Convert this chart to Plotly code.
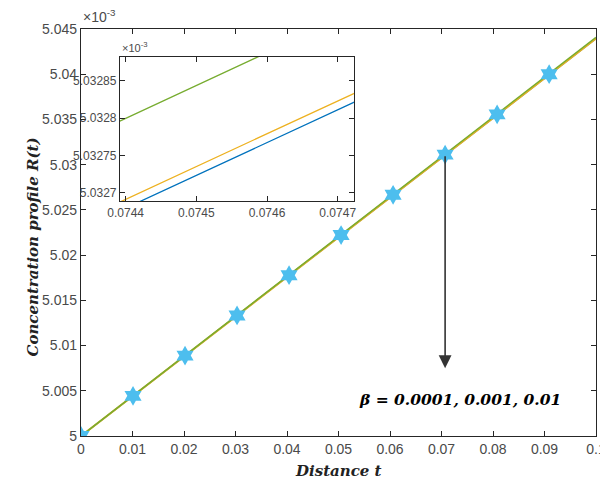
import plotly.graph_objects as go

# ---- data (values shown in units of 1e-3) ----
t_line = [0.0, 0.01, 0.02, 0.03, 0.04, 0.05, 0.06, 0.07, 0.08, 0.09, 0.1]
R_beta_0001 = [5.0, 5.004392, 5.008785, 5.013177, 5.017570, 5.021962, 5.026354, 5.030747, 5.035139, 5.039532, 5.043924]
R_beta_001 = [5.0, 5.004394, 5.008788, 5.013182, 5.017576, 5.021970, 5.026364, 5.030758, 5.035152, 5.039546, 5.043940]
R_beta_01 = [5.0, 5.004409, 5.008817, 5.013226, 5.017634, 5.022043, 5.026452, 5.030860, 5.035269, 5.039677, 5.044086]

t_mark = [0.0, 0.0101, 0.0202, 0.0303, 0.0404, 0.0505, 0.0606, 0.0707, 0.0808, 0.0909]
R_mark = [5.0, 5.00444, 5.00889, 5.01333, 5.01778, 5.02222, 5.02667, 5.03111, 5.03556, 5.04]

x_ticks = [0, 0.01, 0.02, 0.03, 0.04, 0.05, 0.06, 0.07, 0.08, 0.09, 0.1]
x_ticklabels = ["0", "0.01", "0.02", "0.03", "0.04", "0.05", "0.06", "0.07", "0.08", "0.09", "0.1"]
y_ticks = [5.0, 5.005, 5.01, 5.015, 5.02, 5.025, 5.03, 5.035, 5.04, 5.045]
y_ticklabels = ["5", "5.005", "5.01", "5.015", "5.02", "5.025", "5.03", "5.035", "5.04", "5.045"]
inset_x_ticks = [0.0744, 0.0745, 0.0746, 0.0747]
inset_y_ticks = [5.0327, 5.03275, 5.0328, 5.03285]

arrow_from = (0.0707, 5.0311)
arrow_to = (0.0707, 5.0075)
beta_label = "β = 0.0001, 0.001, 0.01"

BLUE = "#0072BD"
YELLOW = "#EDB120"
GREEN = "#77AC30"
CYAN = "#4DBEEE"
AX = "#262626"
TICKF = dict(family="Liberation Sans, Arial, sans-serif", size=14, color="#4a4a4a")
SERIF_BI = "DejaVu Serif, Liberation Serif, serif"

fig = go.Figure()

series = [(R_beta_0001, BLUE, 1.3), (R_beta_001, YELLOW, 2.0), (R_beta_01, GREEN, 1.5)]
for vals, col, w in series:
    fig.add_trace(go.Scatter(x=t_line, y=vals, mode="lines", line=dict(color=col, width=w),
                             xaxis="x", yaxis="y", showlegend=False, hoverinfo="skip"))
fig.add_trace(go.Scatter(x=t_mark, y=R_mark, mode="markers",
                         marker=dict(symbol="hexagram", size=15, color=CYAN, line=dict(width=0)),
                         xaxis="x", yaxis="y", showlegend=False))
for vals, col, w in series:
    fig.add_trace(go.Scatter(x=t_line, y=vals, mode="lines", line=dict(color=col, width=1.3),
                             xaxis="x2", yaxis="y2", showlegend=False, hoverinfo="skip"))

common = dict(showline=True, mirror="ticks", linecolor=AX, linewidth=1.2, ticks="inside",
              ticklen=5, tickcolor=AX, showgrid=False, zeroline=False, automargin=False)

# page body has an 8px margin: figure sized so that the plot area lands where the reference has it
fig.update_layout(
    width=600, height=475,
    margin=dict(l=73, r=12, t=21, b=47, autoexpand=False),
    paper_bgcolor="white", plot_bgcolor="white",
    xaxis=dict(domain=[0, 1], range=[0, 0.1], tickvals=x_ticks, ticktext=x_ticklabels,
               tickfont=TICKF, **common),
    yaxis=dict(domain=[0, 1], range=[5.0, 5.045], tickvals=y_ticks, ticktext=y_ticklabels,
               tickfont=TICKF, **common),
    xaxis2=dict(domain=[0.0757, 0.530], anchor="y2", range=[0.074392, 0.074723],
                tickvals=inset_x_ticks, ticktext=[str(v) for v in inset_x_ticks],
                tickfont=dict(family=TICKF["family"], size=12, color="#4a4a4a"), **common),
    yaxis2=dict(domain=[0.577, 0.931], anchor="x2", range=[5.032689, 5.032882],
                tickvals=inset_y_ticks, ticktext=[str(v) for v in inset_y_ticks],
                tickfont=dict(family=TICKF["family"], size=12, color="#4a4a4a"), **common),
)

fig.add_annotation(x=arrow_to[0], y=arrow_to[1], ax=arrow_from[0], ay=arrow_from[1],
                   xref="x", yref="y", axref="x", ayref="y", showarrow=True,
                   arrowhead=2, arrowsize=1.6, arrowwidth=1.6, arrowcolor="#333333", text="")
fig.add_annotation(x=0.0735, y=5.0040, xref="x", yref="y", text="<b><i>" + beta_label + "</i></b>",
                   showarrow=False, font=dict(family=SERIF_BI, size=15.5, color="black"))

fig.add_annotation(x=0, y=1, xref="paper", yref="paper", xanchor="left", yanchor="bottom", yshift=2,
                   text="×10<sup>-3</sup>", showarrow=False,
                   font=dict(family=TICKF["family"], size=14, color="#4a4a4a"))
fig.add_annotation(x=0.0757, y=0.931, xref="paper", yref="paper", xanchor="left", yanchor="bottom", yshift=1,
                   text="×10<sup>-3</sup>", showarrow=False,
                   font=dict(family=TICKF["family"], size=11, color="#4a4a4a"))

fig.add_annotation(x=0.5, y=-0.085, xref="paper", yref="paper", yanchor="middle",
                   text="<b><i>Distance t</i></b>", showarrow=False,
                   font=dict(family=SERIF_BI, size=15, color="#222222"))
fig.add_annotation(x=-0.115, y=0.465, xref="paper", yref="paper", textangle=-90,
                   text="<b><i>Concentration profile R(t)</i></b>", showarrow=False,
                   font=dict(family=SERIF_BI, size=15, color="#222222"))

fig.write_html("out.html")
